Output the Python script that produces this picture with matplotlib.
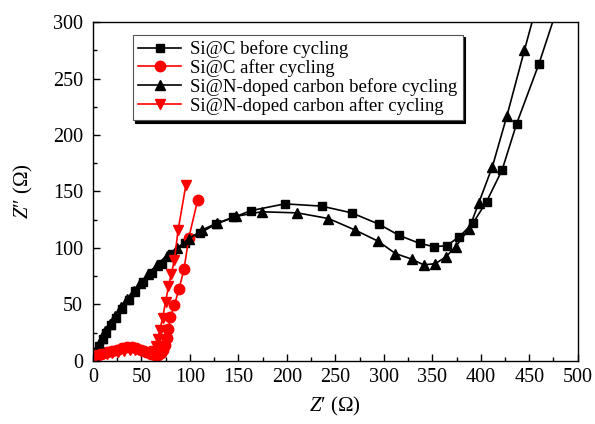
import matplotlib
matplotlib.use("Agg")
import matplotlib.pyplot as plt
from matplotlib.ticker import MultipleLocator

plt.rcParams['font.family'] = ['Liberation Serif', 'DejaVu Serif']
plt.rcParams['mathtext.fontset'] = 'custom'
plt.rcParams['mathtext.it'] = 'Liberation Serif:italic'
plt.rcParams['mathtext.rm'] = 'Liberation Serif'

# Nyquist data (Z' vs Z'') for the four electrodes
sic_before_x = [1, 3, 6, 10, 14, 19, 24, 30, 37, 44, 52, 61, 71, 82, 95, 110, 127,
                145, 163, 198, 236, 267, 295, 316, 337, 352, 365, 378, 392, 406, 422,
                437, 460, 478]
sic_before_y = [4, 8, 13, 19, 25, 32, 38, 46, 54, 62, 70, 78, 86, 95, 104, 113, 121,
                127, 133, 139, 137, 131, 121, 111, 104, 101, 102, 110, 122, 141, 169,
                210, 263, 310]

sic_after_x = [1, 3, 5, 8, 11, 15, 20, 25, 30, 35, 40, 45, 50, 55, 60, 64, 67, 70, 72,
               74, 76, 78, 80, 84, 89, 94, 99, 108]
sic_after_y = [2, 4, 5, 6, 7, 8, 9, 10, 11, 12, 12, 11, 10, 8, 6, 5, 5, 7, 10, 14, 20,
               28, 39, 49, 64, 81, 109, 142]

sinc_before_x = [1, 3, 6, 9, 13, 18, 23, 29, 35, 42, 49, 57, 66, 76, 87, 99, 113,
                 128, 148, 174, 211, 243, 270, 294, 312, 329, 341, 353, 364, 374, 388,
                 398, 412, 427, 445, 458]
sinc_before_y = [5, 10, 15, 20, 26, 33, 40, 48, 55, 62, 69, 77, 85, 93, 100, 108, 116,
                 122, 128, 132, 131, 126, 116, 106, 95, 90, 85, 86, 92, 101, 117, 140,
                 172, 217, 275, 316]

sinc_after_x = [1, 3, 6, 10, 15, 20, 26, 32, 38, 44, 50, 55, 60, 63, 65, 67, 69, 72,
                75, 78, 81, 84, 88, 96]
sinc_after_y = [3, 4, 5, 6, 6, 7, 8, 9, 10, 10, 9, 8, 7, 9, 13, 19, 27, 38, 52, 66,
                77, 89, 116, 156]

labels = ['Si@C before cycling', 'Si@C after cycling',
          'Si@N-doped carbon before cycling', 'Si@N-doped carbon after cycling']

fig = plt.figure(figsize=(5.95, 4.24), dpi=100)
ax = fig.add_axes([0.156, 0.149, 0.815, 0.799])

ax.plot(sic_before_x, sic_before_y, '-s', color='black', lw=1.2, ms=6, label=labels[0])
ax.plot(sic_after_x, sic_after_y, '-o', color='#ff0000', lw=1.2, ms=7.5, label=labels[1])
ax.plot(sinc_before_x, sinc_before_y, '-^', color='black', lw=1.2, ms=7, label=labels[2])
ax.plot(sinc_after_x, sinc_after_y, '-v', color='#ff0000', lw=1.2, ms=7.5, label=labels[3])

ax.set_xlim(0, 500)
ax.set_ylim(0, 300)
ax.xaxis.set_major_locator(MultipleLocator(50))
ax.xaxis.set_minor_locator(MultipleLocator(25))
ax.yaxis.set_major_locator(MultipleLocator(50))
ax.yaxis.set_minor_locator(MultipleLocator(25))
ax.tick_params(which='both', direction='in', top=False, right=False, labelsize=14.5)
ax.tick_params(which='major', length=5, width=1)
ax.tick_params(which='minor', length=3, width=1)
ax.tick_params(axis='y', pad=7)
ax.tick_params(axis='x', pad=5)
for s in ax.spines.values():
    s.set_linewidth(1.0)

ax.set_xlabel("$Z$\u2032 (\u03a9)", fontsize=15, labelpad=6)
ax.set_ylabel("$Z$\u2033 (\u03a9)", fontsize=15, labelpad=13)

leg = ax.legend(loc='upper left', bbox_to_anchor=(0.082, 0.963), fontsize=13.5,
                frameon=True, fancybox=False, edgecolor='#555555', framealpha=1,
                shadow={'color': 'black', 'alpha': 1.0}, handlelength=2.3,
                handletextpad=0.45, labelspacing=0.05, borderpad=0.3,
                borderaxespad=0)
leg.get_frame().set_linewidth(0.8)

fig.savefig('out.png', dpi=100)
